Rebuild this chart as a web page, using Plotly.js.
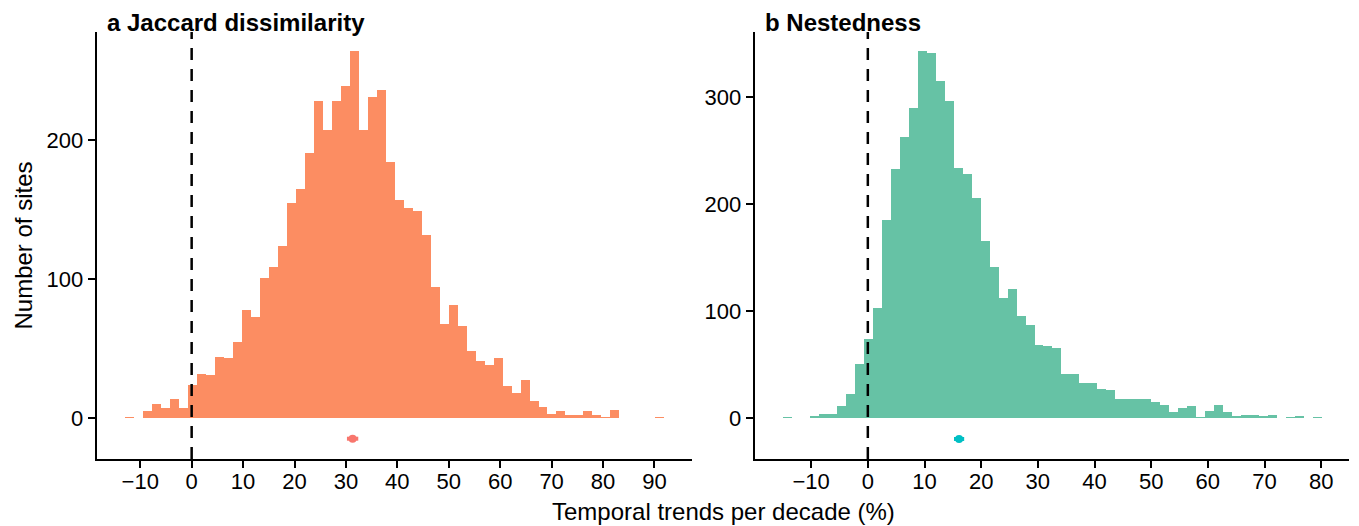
<!DOCTYPE html>
<html>
<head>
<meta charset="utf-8">
<script src="https://cdn.plot.ly/plotly-3.0.1.min.js"></script>
<style>html,body{margin:0;padding:0;background:#fff;}#chart{width:1359px;height:526px;}</style>
</head>
<body>
<div id="chart"></div>
<script>
// ---- data ----
// Panel a: Jaccard dissimilarity, 60 histogram bins
var jaccardBinStart = -12.89;
var jaccardBinWidth = 1.7465;
var jaccardCounts = [1,0,5,10,7,14,7,24,32,31,
  44,43,55,78,73,101,109,124,155,165,
  191,228,207,228,239,264,207,231,236,184,
  157,151,149,132,94,68,81,66,48,41,
  38,43,23,18,27,12,8,3,5,2,
  2,5,2,1,6,0,0,0,0,1];
var jaccardMean = [31.3];
var jaccardMeanY = [-14.9];
var jaccardMeanErr = [1.1];

// Panel b: Nestedness, 60 histogram bins
var nestBinStart = -14.94;
var nestBinWidth = 1.584;
var nestCounts = [1,0,0,2,4,4,11,22,50,74,
  103,185,233,263,290,343,341,315,296,234,
  228,206,165,141,112,121,95,87,68,67,
  65,41,41,33,33,27,26,18,18,18,
  18,15,12,6,9,11,1,7,12,6,
  2,3,3,2,3,0,1,2,0,1];
var nestMean = [16.1];
var nestMeanY = [-19.6];
var nestMeanErr = [0.9];

var panelTitles = ["a Jaccard dissimilarity", "b Nestedness"];
var xTitle = "Temporal trends per decade (%)";
var yTitle = "Number of sites";
var xTicksA = [-10,0,10,20,30,40,50,60,70,80,90];
var xTicksB = [-10,0,10,20,30,40,50,60,70,80];
var yTicksA = [0,100,200];
var yTicksB = [0,100,200,300];

function centers(start, w, n){ var a=[]; for(var i=0;i<n;i++){a.push(start+(i+0.5)*w);} return a; }
function minusLabels(arr){ return arr.map(function(v){return v<0?'\u2212'+(-v):String(v);}); }

var FONT = "Liberation Sans, Arial, Helvetica, sans-serif";

var traces = [
  {type:'bar', x:centers(jaccardBinStart,jaccardBinWidth,jaccardCounts.length), y:jaccardCounts,
   width:jaccardBinWidth, marker:{color:'#FC8D62', line:{width:0}}, xaxis:'x', yaxis:'y', hoverinfo:'x+y'},
  {type:'bar', x:centers(nestBinStart,nestBinWidth,nestCounts.length), y:nestCounts,
   width:nestBinWidth, marker:{color:'#66C2A5', line:{width:0}}, xaxis:'x2', yaxis:'y2', hoverinfo:'x+y'},
  {type:'scatter', mode:'markers', x:jaccardMean, y:jaccardMeanY,
   error_x:{type:'data', array:jaccardMeanErr, thickness:4, width:0, color:'#F8766D'},
   marker:{color:'#F8766D', size:8}, xaxis:'x', yaxis:'y'},
  {type:'scatter', mode:'markers', x:nestMean, y:nestMeanY,
   error_x:{type:'data', array:nestMeanErr, thickness:4, width:0, color:'#00BFC4'},
   marker:{color:'#00BFC4', size:8}, xaxis:'x2', yaxis:'y2'}
];

function axisBase(){
  return {showline:true, linecolor:'#000', linewidth:2.5, ticks:'outside', ticklen:7, tickwidth:2,
    tickcolor:'#000', showgrid:false, zeroline:false, tickfont:{family:FONT, size:22, color:'#000'},
    tickmode:'array', fixedrange:true};
}
var xa = axisBase(); xa.domain=[0.0714,0.5092]; xa.range=[-18.4,97.3]; xa.tickvals=xTicksA; xa.ticktext=minusLabels(xTicksA); xa.anchor='y'; xa.ticklabelstandoff=-6;
var ya = axisBase(); ya.domain=[0.1274,0.9392]; ya.range=[-29.5,277.8]; ya.tickvals=yTicksA; ya.anchor='x';
var xb = axisBase(); xb.domain=[0.5556,0.9926]; xb.range=[-19.9,84.9]; xb.tickvals=xTicksB; xb.ticktext=minusLabels(xTicksB); xb.anchor='y2'; xb.ticklabelstandoff=-6;
var yb = axisBase(); yb.domain=[0.1274,0.9392]; yb.range=[-38.3,360.7]; yb.tickvals=yTicksB; yb.anchor='x2';

var layout = {
  width:1359, height:526, margin:{l:0,r:0,t:0,b:0},
  paper_bgcolor:'#fff', plot_bgcolor:'#fff', showlegend:false, bargap:0,
  font:{family:FONT, color:'#000'},
  xaxis:xa, yaxis:ya, xaxis2:xb, yaxis2:yb,
  shapes:[
    {type:'line', xref:'x', yref:'y domain', x0:0, x1:0, y0:0, y1:1, line:{color:'#000', width:2.5, dash:'12px,9px'}},
    {type:'line', xref:'x2', yref:'y2 domain', x0:0, x1:0, y0:0, y1:1, line:{color:'#000', width:2.5, dash:'12px,9px'}}
  ],
  annotations:[
    {text:'<b>'+panelTitles[0]+'</b>', xref:'paper', yref:'paper', x:105/1359, y:1-22/526, xanchor:'left', yanchor:'middle', showarrow:false, font:{family:FONT, size:24, color:'#000'}},
    {text:'<b>'+panelTitles[1]+'</b>', xref:'paper', yref:'paper', x:763/1359, y:1-22/526, xanchor:'left', yanchor:'middle', showarrow:false, font:{family:FONT, size:24, color:'#000'}},
    {text:xTitle, xref:'paper', yref:'paper', x:723/1359, y:1-511/526, xanchor:'center', yanchor:'middle', showarrow:false, font:{family:FONT, size:24, color:'#000'}},
    {text:yTitle, xref:'paper', yref:'paper', x:23/1359, y:1-245.5/526, xanchor:'center', yanchor:'middle', textangle:-90, showarrow:false, font:{family:FONT, size:24, color:'#000'}}
  ]
};

Plotly.newPlot('chart', traces, layout, {displayModeBar:false, staticPlot:true});
</script>
</body>
</html>
